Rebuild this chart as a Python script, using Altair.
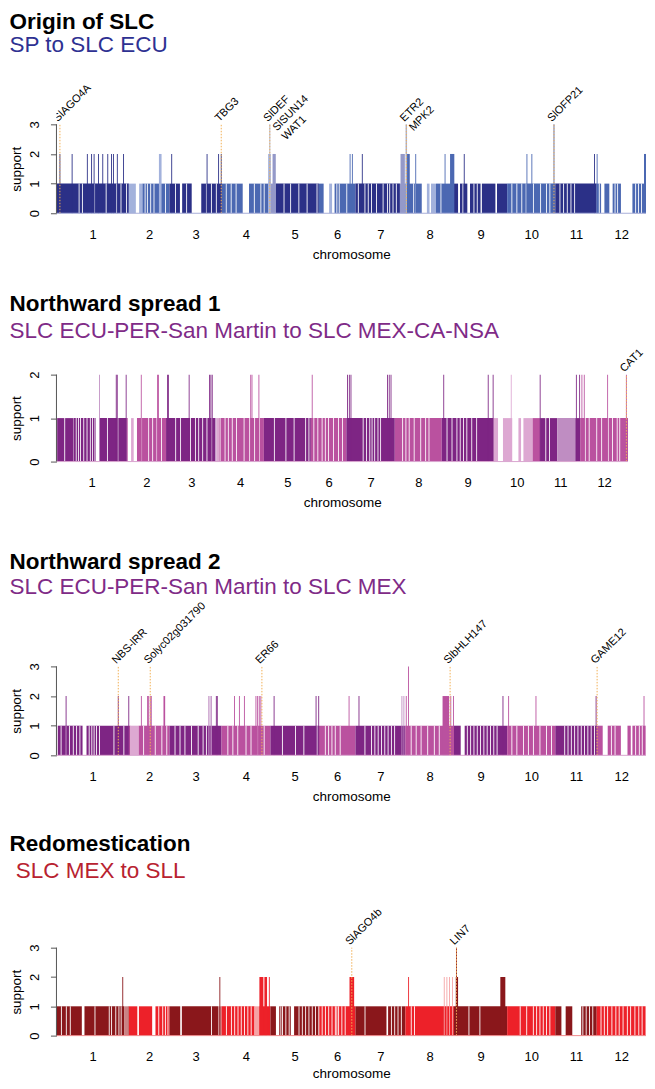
import altair as alt
import pandas as pd

FONT = "Liberation Sans"

# ---------------- genome layout (Mb) ----------------
CHROM_LEN = [98.5, 55.3, 70.8, 66.5, 65.9, 49.8, 68.0, 65.9, 72.5, 65.5, 56.3, 67.1]
CHROM_LABELS = ["1", "2", "3", "4", "5", "6", "7", "8", "9", "10", "11", "12"]

# ---------------- panel 1: Origin of SLC ----------------
P1_RUNS = [
    [0.5, 98.5, 0], [98.5, 108.0, 1], [112.5, 117.0, 1], [117.0, 168.0, 0],
    [171.0, 184.0, 0], [197.0, 253.4, 0], [262.0, 288.0, 0], [288.0, 298.4, 1],
    [298.4, 363.5, 0], [371.0, 375.0, 1], [378.4, 467.3, 0], [467.3, 474.5, 1],
    [474.5, 497.0, 0], [504.0, 507.6, 1], [509.6, 516.3, 1], [516.3, 546.4, 0],
    [549.0, 559.0, 0], [562.6, 577.0, 0], [578.8, 597.2, 0], [599.4, 741.0, 0],
    [745.5, 752.2, 0], [756.7, 768.0, 0], [783.6, 802.1, 0],
]
P1_STREAKS = [30.8, 35.3, 51.9, 67.6, 82.0, 87.8, 95.4, 120.6, 123.7, 128.2, 132.7,
              148.4, 162.0, 177.1, 204.0, 210.8, 217.5, 231.0, 237.7, 244.4, 269.2,
              278.1, 282.6, 309.6, 318.6, 329.8, 341.0, 354.5, 381.5, 384.7, 395.0,
              410.7, 419.7, 424.2, 428.7, 435.4, 444.4, 450.3, 453.4, 457.9, 462.4,
              486.0, 488.5, 523.1, 553.0, 568.0, 572.5, 619.6, 626.4, 633.1, 639.0,
              648.9, 658.7, 666.8, 671.3, 685.0, 690.0, 695.0, 700.0, 705.0, 738.5,
              760.0, 763.5, 788.0, 792.0, 796.0]
P1_PEAKS = [
    [4.7, 4.7, 2, 0], [21.3, 21.3, 2, 0], [42.0, 42.0, 2, 0], [47.8, 47.8, 2, 0],
    [51.2, 51.2, 2, 0], [57.2, 57.2, 2, 0], [63.0, 63.0, 2, 0], [69.8, 69.8, 2, 0],
    [74.8, 74.8, 2, 0], [77.5, 77.5, 2, 0], [82.8, 82.8, 2, 0], [91.3, 91.3, 2, 0],
    [139.4, 143.0, 2, 1], [156.8, 156.8, 2, 0], [204.9, 204.9, 2, 0],
    [220.6, 220.6, 2, 0], [224.2, 224.2, 2, 0], [288.0, 291.6, 2, 1],
    [290.3, 290.3, 3, 1], [294.0, 298.4, 2, 1], [399.5, 399.5, 2, 0],
    [402.6, 402.6, 2, 0], [416.1, 416.1, 2, 0], [468.1, 474.0, 2, 1],
    [475.0, 477.0, 3, 1], [477.0, 480.7, 2, 0], [488.8, 488.8, 2, 0],
    [528.7, 528.7, 2, 0], [535.5, 541.3, 2, 0], [554.8, 554.8, 2, 0],
    [640.1, 640.1, 2, 0], [646.8, 646.8, 2, 0], [676.9, 676.9, 3, 0],
    [732.0, 732.0, 2, 0], [735.6, 735.6, 2, 0], [799.4, 802.1, 2, 0],
]
P1_GENES = [[4.7, "SlAGO4A"], [224.2, "TBG3"], [290.3, "SlDEF\nSlSUN14\nWAT1"],
            [476.0, "ETR2\nMPK2"], [676.9, "SlOFP21"]]

# ---------------- panel 2: Northward spread 1 ----------------
P2_RUNS = [
    [1.0, 24.0, 0], [24.5, 55.3, 0], [60.0, 100.0, 0], [104.7, 108.4, 1],
    [113.0, 222.7, 0], [222.7, 228.0, 1], [228.0, 612.8, 0], [612.8, 619.7, 1],
    [626.6, 639.6, 1], [648.3, 652.0, 1], [655.3, 668.2, 1], [668.2, 702.8, 0],
    [702.8, 728.2, 1], [728.2, 802.1, 0],
]
P2_STREAKS = [11.6, 27.7, 30.9, 33.7, 38.3, 42.9, 47.5, 50.7, 54.0, 71.5, 86.2, 119.5,
              129.4, 135.0, 141.0, 147.4, 167.3, 174.2, 188.1, 195.0, 199.6, 205.2,
              211.2, 218.1, 229.6, 236.6, 241.2, 246.7, 252.7, 263.3, 271.2, 278.1,
              285.0, 305.8, 322.0, 333.5, 349.7, 354.3, 361.2, 366.8, 372.8, 377.3,
              381.9, 388.9, 395.8, 401.3, 430.4, 435.0, 439.7, 442.9, 446.6, 451.2,
              454.9, 485.8, 490.4, 495.0, 502.0, 511.2, 518.1, 522.8, 548.1, 555.1,
              562.0, 566.6, 571.2, 575.9, 582.8, 589.7, 686.7, 692.0, 742.1, 747.6,
              758.2, 765.1, 774.4, 780.4, 786.9, 790.5]
P2_PEAKS = [
    [60.4, 60.4, 2, 1], [83.9, 83.9, 2, 0], [85.3, 85.3, 2, 0], [97.8, 97.8, 2, 0],
    [119.0, 119.0, 2, 0], [141.9, 141.9, 2, 0], [143.3, 143.3, 2, 0],
    [155.8, 155.8, 2, 0], [157.1, 157.1, 2, 0], [186.2, 186.2, 2, 0],
    [214.9, 214.9, 2, 0], [216.7, 216.7, 2, 0], [218.6, 218.6, 2, 0],
    [272.6, 272.6, 2, 0], [274.4, 274.4, 2, 0], [284.1, 284.1, 2, 0],
    [358.9, 358.9, 2, 0], [408.5, 408.5, 2, 0], [411.0, 411.0, 2, 0],
    [413.3, 413.3, 2, 0], [464.5, 464.5, 2, 0], [467.0, 467.0, 2, 0],
    [469.5, 469.5, 2, 0], [543.5, 543.5, 2, 0], [605.9, 605.9, 2, 0],
    [612.8, 612.8, 2, 0], [638.2, 638.2, 2, 1], [678.8, 678.8, 2, 0],
    [729.6, 729.6, 2, 0], [734.2, 734.2, 2, 0], [737.4, 737.4, 2, 0],
    [740.7, 740.7, 2, 0], [773.5, 773.5, 2, 0], [799.8, 799.8, 2, 0],
]
P2_GENES = [[799.8, "CAT1"]]

# ---------------- panel 3: Northward spread 2 ----------------
P3_RUNS = [
    [1.8, 35.5, 0], [40.9, 100.7, 0], [100.7, 111.9, 1], [111.9, 550.0, 0],
    [555.4, 743.2, 0], [750.0, 767.9, 0], [776.9, 781.4, 0], [783.6, 801.6, 0],
]
P3_STREAKS = [6.3, 13.1, 17.6, 22.9, 27.4, 31.9, 44.5, 48.1, 51.2, 54.4, 58.5, 78.2,
              91.7, 118.6, 134.4, 143.4, 150.1, 161.3, 168.1, 174.8, 183.8, 192.8,
              199.5, 204.0, 233.2, 240.0, 246.7, 257.9, 264.7, 273.7, 282.6, 307.4,
              325.3, 336.6, 354.5, 365.8, 370.3, 374.8, 379.3, 386.0, 419.7, 428.7,
              433.2, 437.7, 442.2, 446.7, 451.2, 455.7, 460.1, 482.6, 489.4, 496.1,
              505.1, 514.1, 520.8, 559.0, 563.5, 568.0, 572.5, 577.0, 581.5, 586.0,
              590.5, 595.0, 599.5, 619.6, 626.4, 635.4, 642.1, 648.9, 657.8, 666.8,
              673.6, 691.5, 696.0, 700.5, 705.0, 709.5, 714.0, 718.5, 723.0, 727.5,
              732.0, 755.0, 760.0, 788.0, 793.0, 797.0]
P3_PEAKS = [
    [13.1, 13.1, 2, 0], [84.1, 84.1, 2, 0], [98.4, 98.4, 2, 0], [115.5, 115.5, 2, 0],
    [124.0, 124.0, 2, 0], [125.4, 125.4, 2, 0], [127.6, 127.6, 2, 0],
    [129.0, 129.0, 2, 0], [145.6, 147.9, 2, 0], [207.2, 207.2, 2, 1],
    [209.0, 209.0, 2, 1], [210.8, 210.8, 2, 1], [217.5, 217.5, 2, 0],
    [218.8, 218.8, 2, 0], [242.2, 242.2, 2, 0], [248.9, 248.9, 2, 0],
    [255.7, 255.7, 2, 0], [271.4, 271.4, 2, 0], [273.7, 273.7, 2, 0],
    [275.9, 275.9, 2, 0], [278.1, 278.1, 2, 0], [296.1, 296.1, 2, 0],
    [353.2, 353.2, 2, 0], [356.8, 356.8, 2, 0], [398.1, 398.1, 2, 0],
    [411.6, 411.6, 2, 0], [470.0, 470.0, 2, 1], [472.7, 472.7, 2, 1],
    [475.9, 475.9, 2, 0], [479.0, 479.0, 3, 0], [525.3, 534.3, 2, 0],
    [536.5, 536.5, 2, 0], [540.1, 540.1, 2, 0], [607.5, 607.5, 2, 0],
    [615.2, 615.2, 2, 0], [652.4, 652.4, 2, 0], [734.2, 734.2, 2, 0],
    [799.4, 799.4, 2, 0],
]
P3_GENES = [[84.1, "NBS-lRR"], [127.6, "Solyc02g031790"], [279.5, "ER66"],
            [535.6, "SlbHLH147"], [735.6, "GAME12"]]

# ---------------- panel 4: Redomestication ----------------
P4_RUNS = [
    [0.5, 34.5, 0], [38.1, 92.0, 0], [92.0, 97.9, 1], [97.9, 110.0, 0],
    [112.2, 130.2, 0], [134.7, 168.4, 0], [170.6, 220.0, 0], [220.0, 224.5, 1],
    [224.5, 269.4, 0], [269.4, 276.1, 1], [276.1, 298.6, 0], [303.1, 318.8, 0],
    [323.3, 449.0, 0], [451.2, 687.0, 0], [692.8, 701.8, 0], [713.9, 801.5, 0],
]
P4_STREAKS = [6.7, 13.4, 18.8, 52.4, 71.8, 75.0, 80.7, 85.0, 88.0, 139.2, 144.6, 148.2,
              151.7, 211.0, 231.2, 238.0, 242.5, 247.0, 251.4, 255.9, 260.4, 264.9,
              305.3, 307.6, 312.1, 316.6, 330.0, 334.5, 339.0, 343.5, 348.0, 352.5,
              357.0, 361.5, 365.9, 370.4, 374.9, 379.4, 381.5, 383.9, 388.3, 392.8,
              419.8, 455.7, 460.2, 464.7, 469.2, 482.7, 487.1, 561.2, 576.1, 630.9,
              639.8, 648.8, 653.3, 657.8, 662.3, 666.8, 671.3, 716.2, 720.7, 725.2,
              729.7, 740.9, 745.4, 749.9, 755.7, 761.1, 765.6, 770.9, 776.7, 781.2,
              787.0, 792.3, 796.8]
P4_PEAKS = [
    [90.2, 90.2, 2, 0], [222.3, 222.3, 2, 0], [276.1, 281.5, 2, 0],
    [282.9, 286.5, 2, 0], [289.6, 289.6, 2, 0], [398.7, 405.0, 2, 0],
    [479.1, 479.1, 2, 0], [527.6, 527.6, 2, 1], [531.2, 531.2, 2, 1],
    [534.8, 534.8, 2, 1], [538.8, 538.8, 2, 1], [543.3, 546.4, 2, 0],
    [544.2, 544.2, 3, 0], [603.9, 610.7, 2, 0],
]
P4_GENES = [[401.8, "SlAGO4b"], [544.2, "LIN7"]]

# ---------------- colours ----------------
CATS = ["odd", "even", "odd_light", "even_light"]
BLUES = ["#2B3087", "#4B68B2", "#9499C9", "#A3B2DC"]
PURPLES = ["#7E2584", "#BA519F", "#BF8DC2", "#DDA8D2"]
REDS = ["#8A171B", "#ED2129", "#C98284", "#F5A3A5"]
GENE_LINE = "#F2B055"
AXIS_GREY = "#555555"

# ---------------- helpers ----------------
CHROM_START = []
_acc = 0.0
for _l in CHROM_LEN:
    CHROM_START.append(_acc)
    _acc += _l
TOTAL = _acc
CENTERS = [round(s + l / 2, 2) for s, l in zip(CHROM_START, CHROM_LEN)]
LABEL_EXPR = "[" + ",".join("'%s'" % c for c in CHROM_LABELS) + "][indexof([" + \
    ",".join(str(c) for c in CENTERS) + "], datum.value)]"


def cat_of(i, tone):
    return ("odd" if i % 2 == 0 else "even") + ("_light" if tone else "")


def chrom_of(pos):
    for i in range(12):
        if pos < CHROM_START[i] + CHROM_LEN[i]:
            return i
    return 11


def run_rows(runs):
    rows = []
    for s, e, tone in runs:
        for i in range(12):
            a = max(s, CHROM_START[i])
            b = min(e, CHROM_START[i] + CHROM_LEN[i])
            if b > a:
                rows.append({"x": a, "x2": b, "y": 0, "y2": 1, "cat": cat_of(i, tone)})
    return pd.DataFrame(rows)


def streak_rows(streaks, w=1.2):
    return pd.DataFrame([{"x": p - w / 2, "x2": p + w / 2, "y": 0, "y2": 1} for p in streaks])


def peak_rows(peaks, w=1.2):
    rows = []
    for s, e, sup, tone in peaks:
        if e - s < w:
            s, e = s - w / 2, s + w / 2
        rows.append({"x": s, "x2": e, "y": 0, "y2": sup,
                     "cat": cat_of(chrom_of((s + e) / 2), tone)})
    return pd.DataFrame(rows)


def panel(runs, streaks, peaks, genes, colors, width, height, unit, ytop,
          title, subtitle, sub_color, sub_pad, offset, base_color, clip_labels,
          xtitle_y=45):
    ymax = height / unit
    xs = alt.Scale(domain=[0, TOTAL], nice=False, zero=False)
    ys = alt.Scale(domain=[0, ymax], nice=False, zero=False)
    xaxis = alt.Axis(values=CENTERS, labelExpr=LABEL_EXPR, domain=False, ticks=False,
                     tickSize=0, labelPadding=15, labelBaseline="top", labelAlign="center",
                     labelFontSize=13, labelColor="black", labelFont=FONT, labelFlush=False,
                     labelOverlap=False, grid=False, titleFontSize=13.5,
                     titleFontWeight="normal", titleColor="black", titleFont=FONT,
                     titleY=xtitle_y, titleBaseline="alphabetic")
    yaxis = alt.Axis(values=list(range(ytop + 1)), domain=False, ticks=True, tickSize=6,
                     tickColor=AXIS_GREY, tickWidth=1, labelAngle=270, labelAlign="center",
                     labelBaseline="bottom", labelPadding=9, labelFontSize=13,
                     labelColor="black", labelFont=FONT, grid=False, titleAngle=270,
                     titleX=-33, titleY=height - unit * ytop / 2, titleAlign="center",
                     titleBaseline="bottom", titleFontSize=13.5, titleFontWeight="normal",
                     titleColor="black", titleFont=FONT)

    def X(f):
        return alt.X(f, type="quantitative", scale=xs, axis=xaxis, title="chromosome")

    def Y(f):
        return alt.Y(f, type="quantitative", scale=ys, axis=yaxis, title="support")

    cscale = alt.Scale(domain=CATS, range=colors)
    col = alt.Color("cat:N", scale=cscale, legend=None)

    gene_df = pd.DataFrame([{"x": p, "y": 0, "y2": ytop, "label": t} for p, t in genes])
    base_df = pd.DataFrame([{"x": 0, "x2": TOTAL, "y": 0}])
    yl_df = pd.DataFrame([{"x": 0, "y": 0, "y2": ytop}])

    base = alt.Chart(run_rows(runs)).mark_rect().encode(
        x=X("x"), x2="x2", y=Y("y"), y2="y2", color=col)
    streak = alt.Chart(streak_rows(streaks)).mark_rect(color="white").encode(
        x=X("x"), x2="x2", y=Y("y"), y2="y2")
    peak = alt.Chart(peak_rows(peaks)).mark_rect().encode(
        x=X("x"), x2="x2", y=Y("y"), y2="y2", color=col)
    gline = alt.Chart(gene_df).mark_rule(color=GENE_LINE, strokeDash=[1.5, 1.5],
                                         strokeWidth=1).encode(x=X("x"), y=Y("y"), y2="y2")
    bline = alt.Chart(base_df).mark_rule(color=base_color, strokeWidth=1).encode(
        x=X("x"), x2="x2", y=Y("y"))
    yline = alt.Chart(yl_df).mark_rule(color=AXIS_GREY, strokeWidth=1).encode(
        x=X("x"), y=Y("y"), y2="y2")
    labels = alt.Chart(gene_df).mark_text(
        angle=315, align="left", baseline="bottom", fontSize=11, font=FONT,
        lineBreak="\n", lineHeight=13, dx=0, dy=-1, color="black",
        clip=clip_labels).encode(x=X("x"), y=Y("y2"), text="label:N")

    return alt.layer(base, streak, peak, gline, bline, yline, labels).properties(
        width=width, height=height,
        title=alt.TitleParams(text=title, subtitle=subtitle, anchor="start", frame="bounds",
                              font=FONT, fontSize=22.5, fontWeight="bold", color="black",
                              subtitleFont=FONT, subtitleFontSize=22.5,
                              subtitleColor=sub_color, subtitlePadding=sub_pad,
                              offset=offset))


p1 = panel(P1_RUNS, P1_STREAKS, P1_PEAKS, P1_GENES, BLUES, 590, 157, 29.67, 3,
           "Origin of SLC", "SP to SLC ECU", "#2E3192", 0, 0, "#A9AFD9", True)
p2 = panel(P2_RUNS, P2_STREAKS, P2_PEAKS, P2_GENES, PURPLES, 572, 119, 43.5, 2,
           "Northward spread 1", "SLC ECU-PER-San Martin to SLC MEX-CA-NSA", "#7F2B87",
           4.5, 0, "#D9A6CF", False)
p3 = panel(P3_RUNS, P3_STREAKS, P3_PEAKS, P3_GENES, PURPLES, 590, 167, 29.67, 3,
           "Northward spread 2", "SLC ECU-PER-San Martin to SLC MEX", "#7F2B87", 2.5,
           -9.7, "#D9A6CF", True)
p4 = panel(P4_RUNS, P4_STREAKS, P4_PEAKS, P4_GENES, REDS, 590, 142, 29.33, 3,
           "Redomestication", "\u200b\u00a0SLC MEX to SLL", "#B82230", 4.5, 11.3,
           "#F08A8D", True, xtitle_y=42)

top = alt.vconcat(p1, p2, spacing=31.5).resolve_scale(color="independent")
bottom = alt.vconcat(p3, p4, spacing=29.5).resolve_scale(color="independent")
chart = alt.vconcat(top, bottom, spacing=41.5).resolve_scale(color="independent").properties(
    padding={"left": 1.5, "top": 3, "right": 0, "bottom": 0}).configure(
    font=FONT).configure_view(stroke=None)

chart.save("out.html", embed_options={"renderer": "svg", "actions": False})
